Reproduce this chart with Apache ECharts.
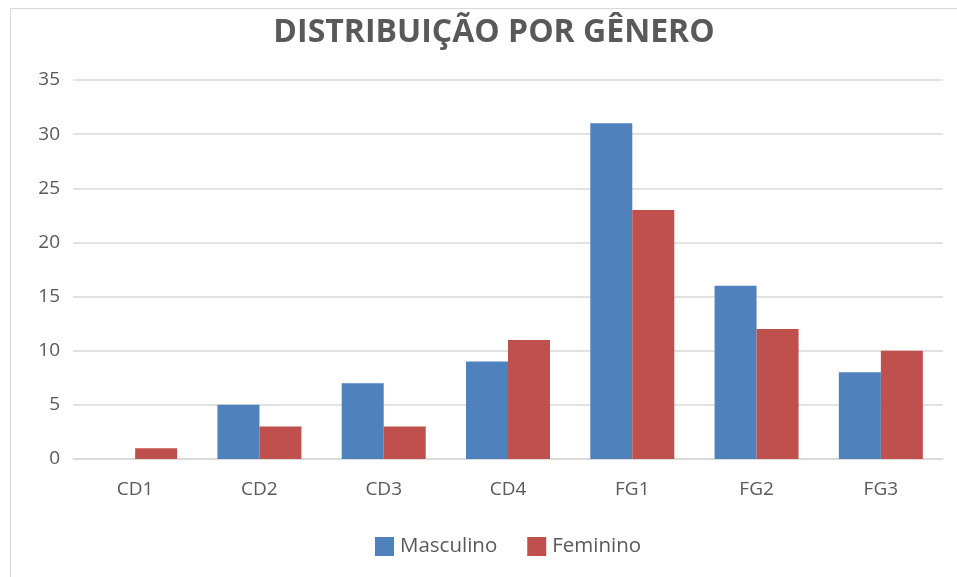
<!DOCTYPE html>
<html>
<head>
<meta charset="utf-8">
<script src="https://cdn.jsdelivr.net/npm/echarts@6/dist/echarts.min.js"></script>
<style>
html,body{margin:0;padding:0;background:#fff;}
#frame{position:absolute;left:10px;top:8px;width:960px;height:580px;border:1px solid #d9d9d9;box-sizing:border-box;}
#main{position:absolute;left:0;top:0;width:957px;height:577px;}
</style>
</head>
<body>
<div id="frame"></div>
<div id="main"></div>
<script>
var categories = ['CD1','CD2','CD3','CD4','FG1','FG2','FG3'];
var masculino = [0,5,7,9,31,16,8];
var feminino = [1,3,3,11,23,12,10];
var yTicks = {min:0, max:35, interval:5};

var myChart = echarts.init(document.getElementById('main'));
var option = {
    animation:false,
    textStyle:{fontFamily:'Open Sans'},
    title:{
        text:'DISTRIBUIÇÃO POR GÊNERO',
        left:489,
        top:12,
        textAlign:'center',
        textStyle:{fontFamily:'Open Sans',fontSize:32,fontWeight:'bold',color:'#595959'}
    },
    legend:{
        bottom:15,
        left:370,
        itemWidth:19,
        itemHeight:19,
        itemGap:30,
        icon:'rect',
        textStyle:{fontSize:20.5,color:'#595959',padding:[0,0,0,1]},
        data:['Masculino','Feminino']
    },
    grid:{left:73,right:14,top:80,bottom:118},
    xAxis:{
        type:'category',
        data:categories,
        axisTick:{show:false},
        axisLine:{lineStyle:{color:'#d9d9d9',width:1.5}},
        axisLabel:{fontSize:19,color:'#595959',margin:21}
    },
    yAxis:{
        type:'value',
        min:yTicks.min,
        max:yTicks.max,
        interval:yTicks.interval,
        axisLine:{show:false},
        axisTick:{show:false},
        axisLabel:{fontSize:19,color:'#595959',margin:13},
        splitLine:{lineStyle:{color:'#d9d9d9',width:1.5}}
    },
    series:[
        {name:'Masculino',type:'bar',data:masculino,barWidth:42,barGap:'0%',
         itemStyle:{color:'#4f81bd'}},
        {name:'Feminino',type:'bar',data:feminino,barWidth:42,barGap:'0%',
         itemStyle:{color:'#c0504d'}}
    ]
};
myChart.setOption(option);
</script>
</body>
</html>
